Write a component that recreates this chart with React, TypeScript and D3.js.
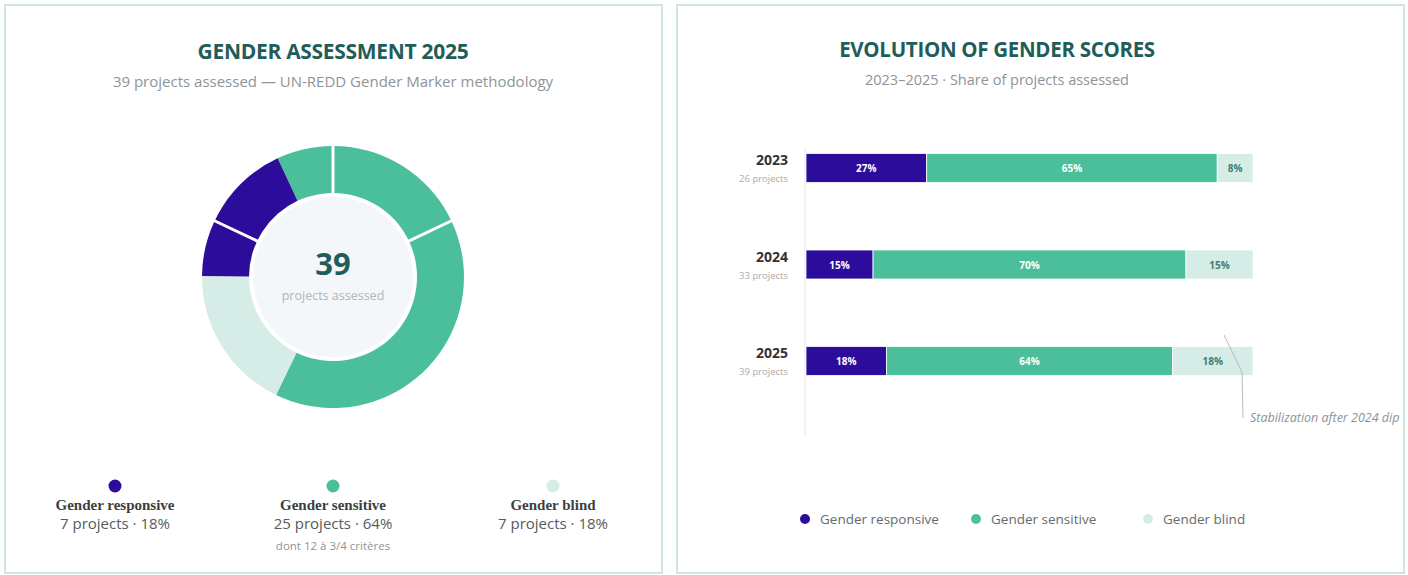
import React from 'react';
import * as d3 from 'd3';

// donut (2025)
const categories = ['Gender responsive', 'Gender sensitive', 'Gender blind'];
const counts2025 = [7, 25, 7];
const legendSubs = ['7 projects · 18%', '25 projects · 64%', '7 projects · 18%'];
const sensitiveNote = 'dont 12 à 3/4 critères';

// stacked bars
const years = ['2023', '2024', '2025'];
const projectsPerYear = [26, 33, 39];
const responsiveShare = [27, 15, 18];
const sensitiveShare = [65, 70, 64];
const blindShare = [8, 15, 18];

const COLORS = ['#2b0c9b', '#4bbf9b', '#d6ece7'];
const TITLE = '#1f5d5a';
const BORDER = '#cfe6e2';
const SANS = '"Open Sans", "Noto Sans", sans-serif';

function Donut() {
  const cx = 333, cy = 277;
  const arc = d3.arc<any>().innerRadius(84).outerRadius(131);
  // coloured ring is drawn sensitive → blind → responsive, rotated back a bit
  const rot = (-25 * Math.PI) / 180;
  const order = [1, 2, 0];
  const pie = d3.pie<number>().sort(null).value(i => counts2025[i])
    .startAngle(rot).endAngle(rot + 2 * Math.PI);
  const slices = pie(order);
  // separators sit on the boundaries of the category order
  const sepPie = d3.pie<number>().sort(null)(counts2025);
  const seps = sepPie.map(d => d.startAngle);
  return (
    <g transform={`translate(${cx},${cy})`}>
      <circle r={80} fill="#f3f7f9" />
      {slices.map((s, k) => (
        <path key={k} d={arc(s) as string} fill={COLORS[s.data]} />
      ))}
      {seps.map((a, k) => (
        <line key={k}
          x1={Math.sin(a) * 82} y1={-Math.cos(a) * 82}
          x2={Math.sin(a) * 133} y2={-Math.cos(a) * 133}
          stroke="#fff" strokeWidth={3} />
      ))}
      <text y={-2} textAnchor="middle" fontFamily={SANS} fontWeight={700} fontSize={31} fill={TITLE}>
        {d3.sum(counts2025)}
      </text>
      <text y={23} textAnchor="middle" fontFamily={SANS} fontSize={12.5} fill="#b0b6b9">projects assessed</text>
    </g>
  );
}

function Bars() {
  const x = d3.scaleLinear().domain([0, 100]).range([806, 1253]);
  const y = d3.scalePoint<string>().domain(years).range([168, 361]);
  const bh = 29;
  const series = [responsiveShare, sensitiveShare, blindShare];
  const stacked = years.map((_, i) => {
    let acc = 0;
    return series.map((s, k) => {
      const seg = { k, x0: acc, x1: acc + s[i], v: s[i] };
      acc += s[i];
      return seg;
    });
  });
  return (
    <g>
      <line x1={x(0) - 1} x2={x(0) - 1} y1={148} y2={436} stroke="#e3e6e8" strokeWidth={1} />
      {years.map((yr, i) => {
        const yc = y(yr) as number;
        return (
          <g key={yr}>
            <text x={788} y={yc - 3} textAnchor="end" fontFamily={SANS} fontWeight={700} fontSize={14} fill="#333">{yr}</text>
            <text x={788} y={yc + 14} textAnchor="end" fontFamily={SANS} fontSize={9.5} fill="#aaa">{projectsPerYear[i]} projects</text>
            {stacked[i].map(s => (
              <g key={s.k}>
                <rect x={x(s.x0)} y={yc - bh / 2} width={x(s.x1) - x(s.x0)} height={bh}
                  fill={COLORS[s.k]} stroke="#fff" strokeWidth={0.8} />
                <text x={(x(s.x0) + x(s.x1)) / 2} y={yc + 4} textAnchor="middle" fontFamily={SANS}
                  fontWeight={700} fontSize={10} fill={s.k === 2 ? '#3f7d72' : '#fff'}>{s.v}%</text>
              </g>
            ))}
          </g>
        );
      })}
      <polyline points="1224,335 1242,372 1243,418" fill="none" stroke="#b5bcbf" strokeWidth={1} />
      <text x={1250} y={422} fontFamily={SANS} fontStyle="italic" fontSize={12.5} fill="#8b9396">Stabilization after 2024 dip</text>
    </g>
  );
}

export default function App() {
  const leftX = [115, 333, 553];
  const rightLegendX = [805, 976, 1148];
  return (
    <svg width={1408} height={575} style={{ position: 'absolute', left: 0, top: 0, background: '#fff' }}>
      <defs>
        <clipPath id="rp"><rect x={677} y={5} width={726} height={568} /></clipPath>
      </defs>
      <rect x={5} y={5} width={657} height={568} fill="#fff" stroke={BORDER} strokeWidth={2} />
      <rect x={677} y={5} width={727} height={568} fill="#fff" stroke={BORDER} strokeWidth={2} />

      <text x={333} y={59} textAnchor="middle" fontFamily={SANS} fontWeight={700} fontSize={21} fill={TITLE} letterSpacing={-0.3}>GENDER ASSESSMENT 2025</text>
      <text x={333} y={87} textAnchor="middle" fontFamily={SANS} fontSize={15} fill="#8e9598">39 projects assessed — UN-REDD Gender Marker methodology</text>
      <Donut />
      {categories.map((c, i) => (
        <g key={c}>
          <circle cx={leftX[i]} cy={486} r={6.5} fill={COLORS[i]} />
          <text x={leftX[i]} y={510} textAnchor="middle" fontFamily='"Liberation Serif", serif' fontWeight={700} fontSize={15} fill="#3a3f42">{c}</text>
          <text x={leftX[i]} y={529} textAnchor="middle" fontFamily={SANS} fontSize={15} fill="#555b5e">{legendSubs[i]}</text>
        </g>
      ))}
      <text x={leftX[1]} y={550} textAnchor="middle" fontFamily={SANS} fontSize={11.5} fill="#8e9598">{sensitiveNote}</text>

      <text x={997} y={57} textAnchor="middle" fontFamily={SANS} fontWeight={700} fontSize={20.5} fill={TITLE} letterSpacing={-0.3}>EVOLUTION OF GENDER SCORES</text>
      <text x={997} y={85} textAnchor="middle" fontFamily={SANS} fontSize={14.5} fill="#8e9598">2023–2025 · Share of projects assessed</text>
      <g clipPath="url(#rp)">
        <Bars />
      </g>
      {categories.map((c, i) => (
        <g key={c}>
          <circle cx={rightLegendX[i]} cy={519} r={5} fill={COLORS[i]} />
          <text x={rightLegendX[i] + 15} y={524} fontFamily={SANS} fontSize={13.5} fill="#666b6e">{c}</text>
        </g>
      ))}
    </svg>
  );
}
